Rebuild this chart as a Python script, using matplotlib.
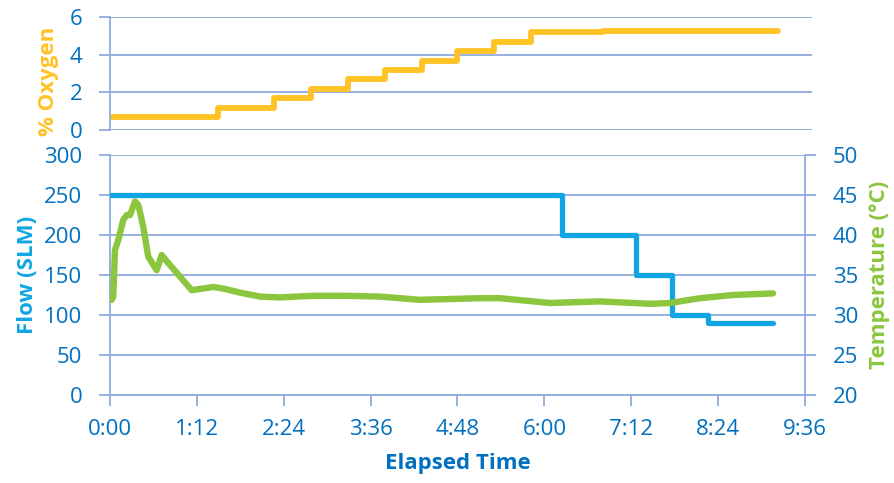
import matplotlib
matplotlib.use("Agg")
import matplotlib.pyplot as plt

plt.rcParams['font.family'] = ['Open Sans', 'DejaVu Sans']

# ---- data (time in minutes) ----
oxy_times = [0, 89.5, 136, 166.6, 197, 228, 258.6, 287.6, 318, 349, 408.6, 553.6]
oxy_levels = [0.7, 1.2, 1.7, 2.2, 2.7, 3.2, 3.7, 4.2, 4.7, 5.2, 5.3, 5.3]

flow_times = [0, 374.6, 436, 465.5, 495.6, 549.5]
flow_values = [250, 200, 150, 100, 90, 90]

temp_times = [0.5, 1.4, 2.7, 4.1, 6.9, 11, 13.8, 16.6, 20.7, 23.5, 27.6, 31.7, 38.7,
              42.8, 49.7, 58, 67.7, 85.6, 93.9, 107.7, 124.3, 140.9, 168.2, 196.2,
              223.8, 257, 306.6, 323.2, 364.7, 406, 447.5, 464, 489, 516.3, 549.5]
temp_values = [31.9, 31.9, 32.3, 38.1, 39.4, 41.9, 42.5, 42.5, 44.2, 43.75, 41.0, 37.3, 35.6,
               37.5, 36.25, 34.8, 33.1, 33.5, 33.3, 32.8, 32.3, 32.2, 32.4, 32.4,
               32.3, 31.9, 32.1, 32.1, 31.5, 31.7, 31.4, 31.5, 32.1, 32.5, 32.7]

x_ticks = [0, 72, 144, 216, 288, 360, 432, 504, 576]
x_tick_labels = ["0:00", "1:12", "2:24", "3:36", "4:48", "6:00", "7:12", "8:24", "9:36"]
oxy_ticks = [0, 2, 4, 6]
flow_ticks = [0, 50, 100, 150, 200, 250, 300]
temp_ticks = [20, 25, 30, 35, 40, 45, 50]

# ---- style ----
GRID = '#8FAADC'
TICKC = '#0070C0'
ORANGE = '#FFC326'
BLUE = '#10A5E3'
GREEN = '#8CC63F'
FS = 16
LFS = 16

W, H = 895, 483
fig = plt.figure(figsize=(W / 100, H / 100), dpi=100)

def rect(x0, y0, x1, y1):
    return [x0 / W, 1 - y1 / H, (x1 - x0) / W, (y1 - y0) / H]

# top axes (oxygen)
axt = fig.add_axes(rect(110, 17.5, 812, 130))
axt.step(oxy_times, oxy_levels, where='post', color=ORANGE, lw=4.2,
         solid_capstyle='round', solid_joinstyle='round')
axt.set_xlim(0, 702 / 1.2066)
axt.set_ylim(0, 6)
axt.set_yticks(oxy_ticks)
axt.set_xticks([])
axt.grid(axis='y', color=GRID, lw=1.3)
axt.set_axisbelow(True)
for s in ['top', 'right', 'bottom']:
    axt.spines[s].set_visible(False)
axt.spines['left'].set_color(GRID)
axt.spines['left'].set_linewidth(1.3)
axt.tick_params(axis='y', colors=GRID, labelcolor=TICKC, labelsize=FS, length=8, width=1.3, pad=12)
axt.set_ylabel('% Oxygen', color=ORANGE, fontsize=LFS, fontweight='bold')
axt.yaxis.set_label_coords((59 - 110) / 702, (130 - 81) / 112.5)

# bottom axes (flow + temperature)
ax = fig.add_axes(rect(110, 155, 805, 395))
ax.step(flow_times, flow_values, where='post', color=BLUE, lw=3.8,
        solid_capstyle='round', solid_joinstyle='round', zorder=3)
ax.set_xlim(0, 576)
ax.set_ylim(0, 300)
ax.set_yticks(flow_ticks)
ax.set_xticks(x_ticks)
ax.set_xticklabels(x_tick_labels)
ax.grid(axis='y', color=GRID, lw=1.3)
ax.set_axisbelow(True)
for s in ['top', 'right']:
    ax.spines[s].set_visible(False)
for s in ['left', 'bottom']:
    ax.spines[s].set_color(GRID)
    ax.spines[s].set_linewidth(1.3)
ax.tick_params(axis='both', colors=GRID, labelcolor=TICKC, labelsize=FS, length=8, width=1.3)
ax.tick_params(axis='y', pad=12)
ax.tick_params(axis='x', pad=9)
ax.set_ylabel('Flow (SLM)', color=BLUE, fontsize=LFS, fontweight='bold')
ax.yaxis.set_label_coords((38 - 110) / 695, 0.5)
ax.set_xlabel('Elapsed Time', color=TICKC, fontsize=LFS, fontweight='bold')
ax.xaxis.set_label_coords(0.5, (395 - 453) / 240)

ax2 = ax.twinx()
ax2.plot(temp_times, temp_values, color=GREEN, lw=4.6,
         solid_capstyle='round', solid_joinstyle='round', zorder=2)
ax2.set_ylim(20, 50)
ax2.set_yticks(temp_ticks)
for s in ['top', 'left', 'bottom']:
    ax2.spines[s].set_visible(False)
ax2.spines['right'].set_color(GRID)
ax2.spines['right'].set_linewidth(1.3)
ax2.tick_params(axis='y', colors=GRID, labelcolor=TICKC, labelsize=FS, length=8, width=1.3, pad=12)
ax2.set_ylabel('Temperature (°C)', color=GREEN, fontsize=LFS, fontweight='bold')
ax2.yaxis.set_label_coords((869 - 110) / 695, 0.5)

fig.savefig('out.png', dpi=100)
